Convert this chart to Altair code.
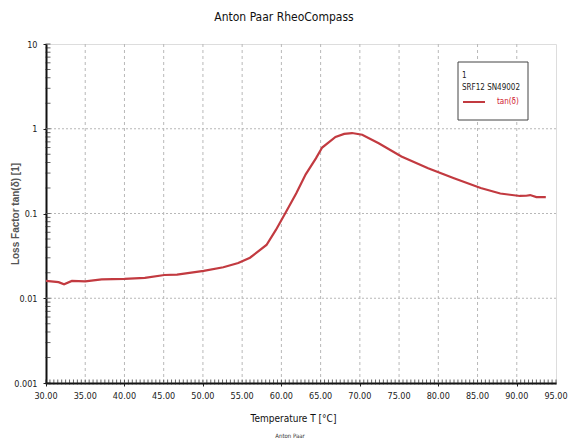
import altair as alt
import pandas as pd

# Data
temp = [30.0, 31.6, 32.3, 33.3, 35.0, 37.1, 40.0, 42.6, 45.1, 46.7, 50.1, 52.6, 54.5, 56.0,
        58.1, 59.3, 60.6, 61.9, 63.1, 64.4, 65.2, 66.9, 68.0, 69.0, 70.3, 72.4, 75.3,
        78.7, 82.0, 85.4, 87.9, 90.4, 91.2, 91.7, 92.5, 93.7]
tand = [0.0160, 0.0155, 0.0146, 0.0160, 0.0158, 0.0167, 0.0169, 0.0174, 0.0188, 0.0190, 0.0210,
        0.0232, 0.0260, 0.0301, 0.0425, 0.064, 0.105, 0.173, 0.290, 0.448, 0.600, 0.800,
        0.870, 0.890, 0.850, 0.673, 0.470, 0.341, 0.260, 0.200, 0.172, 0.161, 0.162,
        0.165, 0.156, 0.156]

x_major = [30, 35, 40, 45, 50, 55, 60, 65, 70, 75, 80, 85, 90, 95]
x_grid = [35, 40, 45, 50, 55, 60, 65, 70, 75, 80, 85, 90]
y_major = [0.001, 0.01, 0.1, 1, 10]
y_grid = [0.01, 0.1, 1]
x_minor = [30 + 0.5 * i for i in range(131)]
y_minor = [m * 10 ** e for e in range(-3, 1) for m in range(1, 10)] + [10]

df = pd.DataFrame({"T": temp, "tan": tand})

W, H = 510, 339
FONT = "'DejaVu Sans Condensed', 'Liberation Sans', sans-serif"
RED = "#c23a40"

xscale = alt.Scale(domain=[30, 95], nice=False, zero=False)
yscale = alt.Scale(type="log", domain=[0.001, 10], nice=False)

line = alt.Chart(df).mark_line(color=RED, strokeWidth=2.2).encode(
    x=alt.X("T:Q", scale=xscale,
            axis=alt.Axis(values=x_major, grid=False, tickSize=3, tickColor="#222",
                          labels=False, domainColor="#111", domainWidth=2,
                          title="Temperature T [°C]", titleFont=FONT, titleFontSize=10,
                          titleFontWeight="normal", titleColor="#111", titlePadding=27,
                          titleX=W / 2 - 8)),
    y=alt.Y("tan:Q", scale=yscale,
            axis=alt.Axis(values=y_major, grid=False, tickSize=3, tickColor="#222",
                          format="~g", labelFont=FONT, labelFontSize=9,
                          labelColor="#222", labelPadding=6, labelFlush=False,
                          domainColor="#111", domainWidth=2,
                          title="Loss Factor tan(δ) [1]", titleFont="Liberation Sans",
                          titleFontSize=10, titleFontWeight="bold", titleColor="#555",
                          titleX=-31, titleY=H / 2, titleAlign="center",
                          titleBaseline="middle", titleAngle=270)),
)

xlabels = alt.Chart(pd.DataFrame({"v": x_major})).mark_text(
    font=FONT, fontSize=9, color="#222", align="center", baseline="middle").encode(
    x=alt.X("v:Q", scale=xscale), y=alt.value(H + 13),
    text=alt.Text("v:Q", format=".2f"))

xminor = alt.Chart(pd.DataFrame({"v": x_minor})).mark_tick(
    color="#222", size=5, thickness=1).encode(
    x=alt.X("v:Q", scale=xscale), y=alt.value(H - 1))
yminor = alt.Chart(pd.DataFrame({"v": y_minor})).mark_tick(
    color="#222", size=5, thickness=1).encode(
    y=alt.Y("v:Q", scale=yscale), x=alt.value(2))

gx = alt.Chart(pd.DataFrame({"g": x_grid})).mark_rule(
    color="#b8b8b8", strokeDash=[3, 3], strokeWidth=1).encode(
    x=alt.X("g:Q", scale=xscale))
gy = alt.Chart(pd.DataFrame({"g": y_grid})).mark_rule(
    color="#b8b8b8", strokeDash=[2, 2], strokeWidth=1.2).encode(
    y=alt.Y("g:Q", scale=yscale))

# Legend box
box = alt.Chart(pd.DataFrame({"a": [0]})).mark_rect(
    fill="white", stroke="#444", strokeWidth=1).encode(
    x=alt.value(412), x2=alt.value(482), y=alt.value(18), y2=alt.value(76))
leg_t1 = alt.Chart(pd.DataFrame({"t": ["1"]})).mark_text(
    align="left", baseline="middle", font=FONT, fontSize=8, color="#222").encode(
    text="t:N", x=alt.value(416), y=alt.value(32))
leg_t2 = alt.Chart(pd.DataFrame({"t": ["SRF12 SN49002"]})).mark_text(
    align="left", baseline="middle", font=FONT, fontSize=8, color="#222").encode(
    text="t:N", x=alt.value(416), y=alt.value(44))
leg_line = alt.Chart(pd.DataFrame({"a": [0]})).mark_rule(
    color=RED, strokeWidth=2).encode(
    x=alt.value(417), x2=alt.value(439), y=alt.value(58))
leg_t3 = alt.Chart(pd.DataFrame({"t": ["tan(δ)"]})).mark_text(
    align="left", baseline="middle", font=FONT, fontSize=8, color="#d02030").encode(
    text="t:N", x=alt.value(451), y=alt.value(58))

footer = alt.Chart(pd.DataFrame({"t": ["Anton Paar"]})).mark_text(
    align="center", baseline="middle", font=FONT, fontSize=6, color="#333").encode(
    text="t:N", x=alt.value(244), y=alt.value(H + 53))

chart = alt.layer(gx, gy, line, xminor, yminor, xlabels, box, leg_t1, leg_t2, leg_line,
                  leg_t3, footer).properties(
    width=W, height=H,
    title=alt.TitleParams("Anton Paar RheoCompass", font=FONT, fontSize=12,
                          fontWeight="normal", color="#111", offset=16, anchor="middle",
                          dx=-17),
    autosize=alt.AutoSizeParams(type="none"),
    padding={"left": 38, "top": 36, "right": 12, "bottom": 60},
).configure_view(stroke="#111", strokeWidth=2).configure(background="white")

chart.save("out.html", embed_options={"renderer": "svg", "actions": False})
